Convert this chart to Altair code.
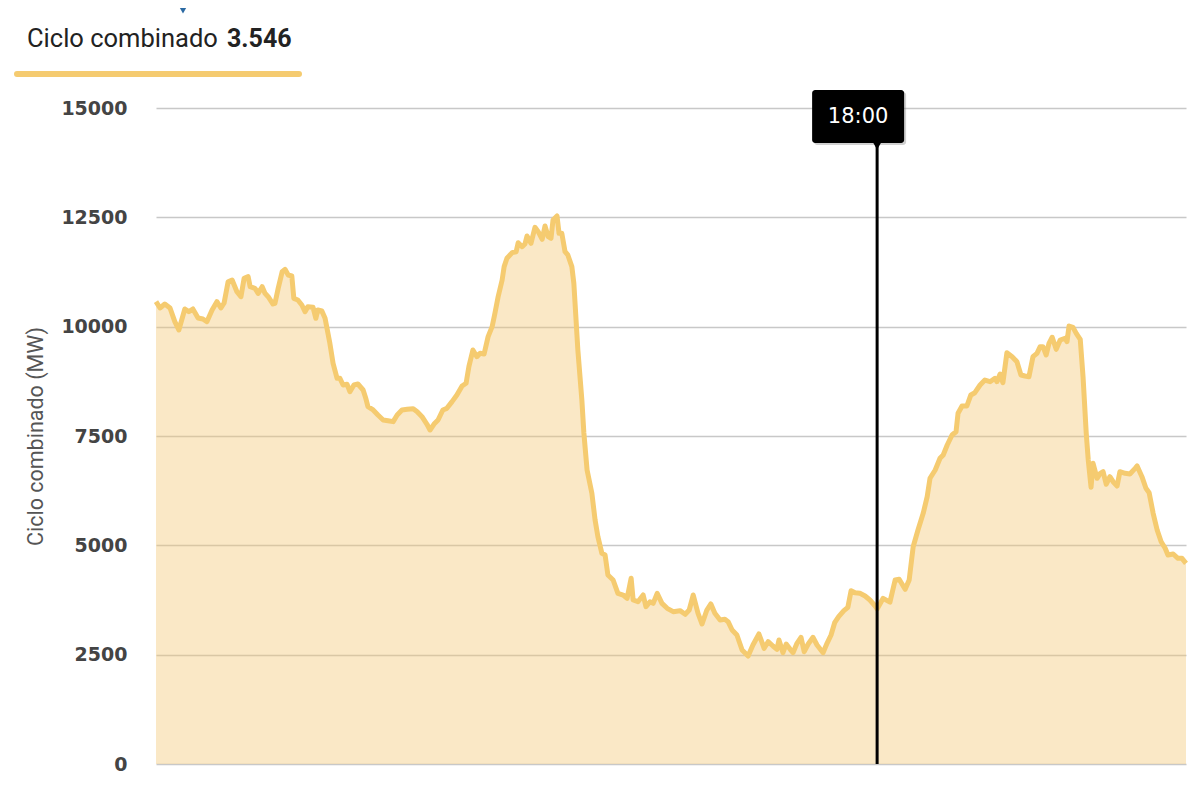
import altair as alt
import pandas as pd

# ---- data (hours from the start of the series, MW) ----
hora = [0.00, 0.10, 0.22, 0.35, 0.47, 0.57, 0.72, 0.82, 0.92, 1.05, 1.17, 1.27, 1.40, 1.52, 1.62, 1.70,
        1.80, 1.90, 2.02, 2.12, 2.20, 2.30, 2.35, 2.47, 2.55, 2.65, 2.72, 2.80, 2.92, 2.97, 3.05, 3.15,
        3.22, 3.30, 3.39, 3.44, 3.54, 3.64, 3.72, 3.79, 3.92, 3.99, 4.04, 4.14, 4.22, 4.34, 4.42, 4.52,
        4.59, 4.67, 4.77, 4.84, 4.94, 5.04, 5.17, 5.24, 5.29, 5.42, 5.54, 5.67, 5.79, 5.92, 6.02, 6.14,
        6.27, 6.42, 6.52, 6.64, 6.76, 6.84, 6.94, 7.04, 7.16, 7.26, 7.39, 7.51, 7.64, 7.74, 7.81, 7.91,
        8.01, 8.09, 8.19, 8.29, 8.39, 8.46, 8.54, 8.64, 8.69, 8.76, 8.89, 8.99, 9.04, 9.14, 9.21, 9.26,
        9.36, 9.46, 9.54, 9.64, 9.71, 9.79, 9.86, 9.91, 10.01, 10.06, 10.13, 10.21, 10.28, 10.38, 10.43,
        10.48, 10.53, 10.63, 10.68, 10.76, 10.88, 10.96, 11.03, 11.13, 11.21, 11.28, 11.41, 11.53, 11.66,
        11.76, 11.86, 11.91, 12.03, 12.16, 12.23, 12.33, 12.41, 12.51, 12.63, 12.76, 12.91, 13.08, 13.21,
        13.31, 13.41, 13.53, 13.63, 13.75, 13.85, 13.95, 14.08, 14.20, 14.28, 14.38, 14.50, 14.63, 14.78,
        14.90, 15.05, 15.18, 15.28, 15.40, 15.50, 15.55, 15.65, 15.73, 15.83, 15.90, 16.00, 16.10, 16.18,
        16.28, 16.40, 16.50, 16.65, 16.75, 16.85, 16.94, 17.04, 17.17, 17.27, 17.35, 17.45, 17.57, 17.70,
        17.82, 17.95, 18.00, 18.15, 18.32, 18.45, 18.55, 18.70, 18.80, 18.90, 19.02, 19.15, 19.25, 19.32,
        19.45, 19.57, 19.65, 19.75, 19.87, 19.97, 20.02, 20.12, 20.24, 20.34, 20.44, 20.57, 20.69, 20.82,
        20.94, 20.99, 21.07, 21.14, 21.24, 21.37, 21.49, 21.59, 21.69, 21.79, 21.89, 21.99, 22.07, 22.14,
        22.22, 22.29, 22.37, 22.47, 22.57, 22.69, 22.74, 22.79, 22.89, 22.97, 23.07, 23.14, 23.22, 23.27,
        23.34, 23.39, 23.49, 23.57, 23.64, 23.72, 23.81, 23.89, 23.99, 24.06, 24.19, 24.31, 24.44, 24.49,
        24.61, 24.71, 24.79, 24.89, 24.99, 25.09, 25.19, 25.26, 25.39, 25.51, 25.61, 25.71]

mw = [10571, 10427, 10518, 10427, 10114, 9924, 10404, 10343, 10404, 10198, 10175, 10114, 10381, 10571, 10427, 10541,
      11028, 11067, 10800, 10685, 11106, 11143, 10914, 10876, 10762, 10914, 10762, 10685, 10518, 10534, 10876, 11257,
      11311, 11181, 11158, 10648, 10610, 10495, 10343, 10457, 10442, 10191, 10381, 10358, 10191, 9620, 9163, 8820,
      8820, 8666, 8682, 8513, 8666, 8689, 8552, 8350, 8170, 8095, 7980, 7866, 7850, 7828, 7980, 8095,
      8110, 8125, 8056, 7942, 7774, 7637, 7774, 7866, 8095, 8133, 8286, 8438, 8643, 8705, 9085, 9467,
      9314, 9391, 9375, 9771, 10000, 10305, 10685, 11067, 11372, 11563, 11692, 11714, 11920, 11829, 11890, 12073,
      11906, 12271, 12172, 11998, 12302, 12058, 12020, 12439, 12531, 12134, 12134, 11714, 11639, 11372, 10991,
      10228, 9467, 8323, 7569, 6723, 6190, 5579, 5198, 4817, 4779, 4322, 4207, 3903, 3864,
      3788, 4246, 3750, 3711, 3864, 3597, 3711, 3674, 3903, 3674, 3560, 3483, 3506, 3423,
      3521, 3864, 3446, 3201, 3521, 3659, 3446, 3293, 3308, 3254, 3064, 2950, 2607, 2470,
      2721, 2973, 2645, 2797, 2698, 2622, 2835, 2545, 2744, 2622, 2545, 2759, 2897, 2568,
      2744, 2897, 2721, 2545, 2759, 2950, 3231, 3369, 3506, 3583, 3963, 3917, 3903, 3841,
      3750, 3613, 3546, 3788, 3700, 4207, 4223, 3994, 4207, 4969, 5351, 5732, 6112, 6533,
      6723, 6990, 7066, 7294, 7523, 7598, 8019, 8186, 8186, 8438, 8490, 8666, 8780, 8742,
      8819, 8742, 8918, 8719, 9405, 9314, 9199, 8895, 8872, 8856, 9314, 9391, 9542, 9542,
      9352, 9619, 9757, 9482, 9695, 9734, 9657, 10015, 9985, 9848, 9711, 8856, 7562, 6951,
      6327, 6876, 6533, 6647, 6684, 6396, 6570, 6455, 6357, 6684, 6647, 6631, 6761, 6814,
      6570, 6304, 6204, 5732, 5351, 5083, 4932, 4779, 4802, 4703, 4703, 4588]

y_ticks = [0, 2500, 5000, 7500, 10000, 12500, 15000]
cursor_hora = [18.0]
cursor_label = ["18:00"]
header_label = ["Ciclo combinado"]
header_value = ["3.546"]
y_title = "Ciclo combinado (MW)"

LINE = "#f5cb70"
FILL = "#f2c570"

df = pd.DataFrame({"hora": hora, "mw": mw})
cur = pd.DataFrame({"hora": cursor_hora, "label": cursor_label})
head = pd.DataFrame({"label": header_label, "value": header_value})

xscale = alt.Scale(domain=[0, 25.71], nice=False, zero=False)
yscale = alt.Scale(domain=[0, 15000], nice=False)

X = alt.X("hora:Q", scale=xscale,
          axis=alt.Axis(labels=False, ticks=False, grid=False, title=None, domain=True,
                        domainColor="#555555", domainWidth=2, zindex=1))
Y = alt.Y("mw:Q", scale=yscale,
          axis=alt.Axis(values=y_ticks, format="d", title=y_title, domain=False, ticks=False, tickSize=0,
                        labelPadding=29, labelFont="DejaVu Sans", labelFontSize=19,
                        labelFontWeight="bold", labelColor="#444444",
                        titleFont="Roboto", titleFontSize=21.5, titleFontWeight="normal",
                        titleColor="#555555", titlePadding=13,
                        grid=True, gridColor="#c8c8c8", gridWidth=1.5))

area = alt.Chart(df).mark_area(color=FILL, opacity=0.4).encode(x=X, y=Y)
line = alt.Chart(df).mark_line(color=LINE, strokeWidth=5, strokeJoin="round").encode(x=X, y=Y)

XC = alt.X("hora:Q", scale=xscale, axis=None)

rule = alt.Chart(cur).mark_rule(color="black", strokeWidth=3).encode(
    x=XC, y=alt.value(35), y2=alt.value(656))
shadow = alt.Chart(cur).mark_rect(color="#777777", opacity=0.35, cornerRadius=3,
                                  xOffset=-63, x2Offset=29, yOffset=2, y2Offset=2).encode(
    x=XC, x2="hora:Q", y=alt.value(-18), y2=alt.value(35))
box = alt.Chart(cur).mark_rect(color="black", cornerRadius=3, xOffset=-65, x2Offset=27).encode(
    x=XC, x2="hora:Q", y=alt.value(-18), y2=alt.value(35))
pointer = alt.Chart(cur).mark_point(shape="triangle-down", filled=True, color="black",
                                    size=110, opacity=1).encode(x=XC, y=alt.value(37))
label = alt.Chart(cur).mark_text(color="white", font="DejaVu Sans", fontSize=21, dx=-19,
                                 baseline="middle", align="center").encode(
    x=XC, y=alt.value(9), text="label:N")

h1 = alt.Chart(head).mark_text(align="left", baseline="alphabetic", font="Roboto", fontSize=25.5,
                               color="#222222").encode(x=alt.value(-129), y=alt.value(-61), text="label:N")
h2 = alt.Chart(head).mark_text(align="left", baseline="alphabetic", font="Roboto", fontSize=25,
                               fontWeight="bold", color="#222222").encode(
    x=alt.value(71), y=alt.value(-61), text="value:N")
hbar = alt.Chart(head).mark_rule(color=LINE, strokeWidth=6, strokeCap="round").encode(
    x=alt.value(-139), x2=alt.value(143), y=alt.value(-34))
htri = alt.Chart(head).mark_point(shape="triangle-down", filled=True, color="#2c6aa3",
                                  size=220, opacity=1).encode(x=alt.value(27), y=alt.value(-101))

chart = alt.layer(area, line, rule, shadow, box, pointer, label, h1, h2, hbar, htri).properties(
    width=1030, height=656,
    autosize=alt.AutoSizeParams(type="none"),
    padding={"left": 148, "top": 100, "right": 6, "bottom": 20},
    background="white",
).configure_view(stroke=None)

chart.save("out.html", embed_options={"renderer": "svg", "actions": False})
